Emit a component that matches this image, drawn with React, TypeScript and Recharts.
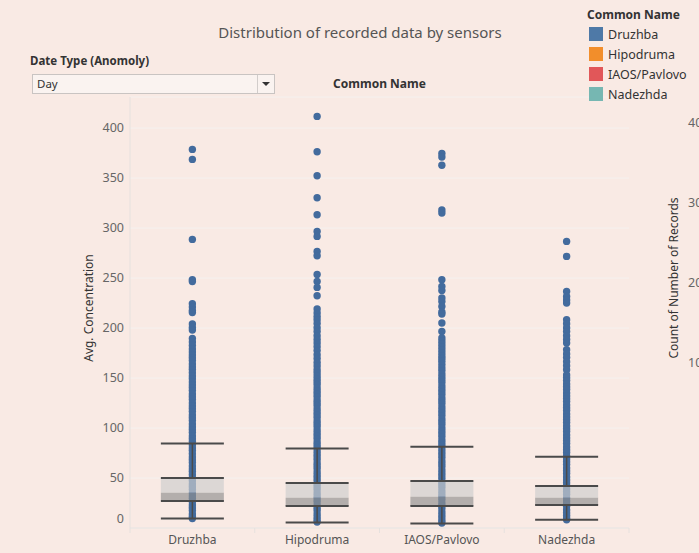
import {
  CartesianGrid,
  ReferenceArea,
  ReferenceLine,
  Scatter,
  ScatterChart,
  XAxis,
  YAxis,
} from "recharts"

const SENSORS = ["Druzhba", "Hipodruma", "IAOS/Pavlovo", "Nadezhda"]
const LEGEND_COLORS = ["#4e79a7", "#f28e2b", "#e15759", "#76b7b2"]
const Y_TICKS = [0, 50, 100, 150, 200, 250, 300, 350, 400]
const RIGHT_TICKS = ["40", "30", "20", "10"]

const DRUZHBA = [
  378.6, 368.6, 288.6, 248.3, 246.5, 224.3, 220.9, 217.6, 215.5, 204, 200.5, 198, 189.5, 186, 182.5,
  179, 176, 173, 170.2, 167.5, 164.1, 161, 158.4, 155.2, 152, 149.3, 146.1, 143, 140.2, 137.4, 134,
  131.2, 128.5, 125.1, 122, 119.3, 116.4, 113, 110.2, 107.5, 104.1, 101, 98.3, 95.4, 92, 89.2, 86.5,
  83.1, 80, 77.4, 74.2, 71, 68.3, 65.5, 62.1, 59, 56.4, 53.2, 50.1, 47.3, 44, 41.2, 38.5, 35.1, 32,
  29.4, 26.2, 23, 20.3, 17.5, 14.1, 11.6, 9.5,
]
const HIPODRUMA = [
  411.6, 376.3, 352.3, 330.3, 313.3, 296.6, 291.6, 276.6, 272.3, 253.6, 246.6, 240.6, 232.3, 219,
  215, 211.4, 208.3, 204.6, 200.2, 196.5, 192.3, 188.6, 185, 181.2, 177.4, 173.3, 169.5, 165.6,
  162, 158.2, 155.3, 152.1, 149, 146.2, 143.5, 140.1, 137, 134.3, 131.4, 128, 125.2, 122.5, 119.1,
  116, 113.3, 110.4, 107, 104.2, 101.5, 98.1, 95, 92.3, 89.4, 86, 83.2, 80.5, 77.1, 74, 71.3, 68.4,
  65, 62.2, 59.5, 56.1, 53, 50.3, 47.4, 44, 41.2, 38.5, 35.1, 32, 29.3, 26.4, 23, 20.2, 17.5, 14.1,
  11, 8.3, 6,
]
const IAOS_PAVLOVO = [
  374.5, 371, 362.7, 318, 315, 248.3, 241.6, 237.6, 230, 226.6, 221.6, 216, 214, 205, 196.6, 190,
  187, 184, 181, 178, 175, 172, 169.6, 166.8, 163.5, 160.2, 157.4, 154.1, 151, 148.3, 145.5, 142.1,
  139, 136.2, 133.4, 130, 127.3, 124.5, 121.1, 118, 115.2, 112.4, 109, 106.3, 103.5, 100.1, 97,
  94.2, 91.4, 88, 85.3, 82.5, 79.1, 76, 73.2, 70.4, 67, 64.3, 61.5, 58.1, 55, 52.2, 49.4, 46, 43.3,
  40.5, 37.1, 34, 31.2, 28.4, 25, 22.3, 19.5, 16.1, 13, 10.2, 7.4, 5,
]
const NADEZHDA = [
  286.6, 271.6, 236.6, 231.6, 228, 225, 208.3, 204.2, 200.1, 196.4, 192.2, 188.5, 185, 178.3,
  174.1, 170.4, 166.2, 162.3, 158.3, 153, 150.2, 147.4, 144, 141.3, 138.5, 135.1, 132, 129.2,
  126.4, 123, 120.3, 117.5, 114.1, 111, 108.2, 105.4, 102, 99.3, 96.5, 93.1, 90, 87.2, 84.4, 81,
  78.3, 75.5, 72.1, 69, 66.2, 63.4, 60, 57.3, 54.5, 51.1, 48, 45.2, 42.4, 39, 36.3, 33.5, 30.1, 27,
  24.2, 21.4, 18, 15.3, 12.5, 10.1, 8.2,
]
const SERIES = [DRUZHBA, HIPODRUMA, IAOS_PAVLOVO, NADEZHDA]

// box plot summary per sensor
const WHISKER_LOW = [9.6, 5.6, 4.6, 8.3]
const Q1 = [27, 22, 22, 23]
const MEDIAN = [35.3, 30.3, 31.3, 30.3]
const Q3 = [50, 45, 47, 42]
const WHISKER_HIGH = [84.6, 79.6, 81.3, 71.3]

const BOX_HALF = 0.2525
const DOT_COLOR = "#436b9d"
const LINE_COLOR = "#4a4a4a"
const BG = "#f9eae4"
const FONT = "'Noto Sans', sans-serif"

const dots = SERIES.flatMap((vals, i) => vals.map((v) => ({ x: i + 0.5, y: v })))

function Dot(props: any) {
  return <circle cx={props.cx} cy={props.cy} r={3.7} fill={DOT_COLOR} />
}

function XTick({ x, y, payload }: any) {
  const v = payload.value as number
  if (Number.isInteger(v)) {
    return <line x1={x} x2={x} y1={y} y2={y + 5} stroke="#e6e1de" />
  }
  return (
    <text x={x} y={y + 16} textAnchor="middle" fontSize={12} fill="#555" fontFamily={FONT}>
      {SENSORS[Math.floor(v)]}
    </text>
  )
}

function YTick({ x, y, payload }: any) {
  const v = payload.value as number
  return (
    <text x={x} y={y + 4 - (v === 0 ? 9 : 0)} textAnchor="end" fontSize={12.5} fill="#666" fontFamily={FONT}>
      {v}
    </text>
  )
}

function BoxPlots() {
  return SENSORS.map((_, i) => {
    const c = i + 0.5
    const l = c - BOX_HALF
    const r = c + BOX_HALF
    return [
      <ReferenceArea key={`a${i}`} x1={l} x2={r} y1={MEDIAN[i]} y2={Q3[i]} fill="#cecece" fillOpacity={0.67} stroke="none" zIndex={700} />,
      <ReferenceArea key={`b${i}`} x1={l} x2={r} y1={Q1[i]} y2={MEDIAN[i]} fill="#919191" fillOpacity={0.67} stroke="none" zIndex={700} />,
      <ReferenceLine key={`c${i}`} segment={[{ x: c, y: Q3[i] }, { x: c, y: WHISKER_HIGH[i] }]} stroke={LINE_COLOR} strokeWidth={1.5} zIndex={710} />,
      <ReferenceLine key={`d${i}`} segment={[{ x: c, y: WHISKER_LOW[i] }, { x: c, y: Q1[i] }]} stroke={LINE_COLOR} strokeWidth={1.5} zIndex={710} />,
      ...[WHISKER_LOW[i], Q1[i], Q3[i], WHISKER_HIGH[i]].map((v, k) => (
        <ReferenceLine key={`e${i}-${k}`} segment={[{ x: l, y: v }, { x: r, y: v }]} stroke={LINE_COLOR} strokeWidth={2} zIndex={720} />
      )),
    ]
  })
}

export default function App() {
  return (
    <div style={{ position: "absolute", left: 0, top: 0, width: 699, height: 553, background: BG, overflow: "hidden", fontFamily: FONT, color: "#333" }}>
      <div style={{ position: "absolute", left: 0, top: 0 }}>
        <ScatterChart width={699} height={553} margin={{ top: 97, right: 70, bottom: 0, left: 0 }}>
          <CartesianGrid horizontal vertical={false} stroke="#f5f1ef" />
          <XAxis
            type="number"
            dataKey="x"
            domain={[0, 4]}
            ticks={[0, 0.5, 1, 1.5, 2, 2.5, 3, 3.5, 4]}
            interval={0}
            height={25}
            tickSize={0}
            tickMargin={0}
            tickLine={false}
            axisLine={{ stroke: "#e6e1de" }}
            tick={<XTick />}
          />
          <YAxis
            type="number"
            dataKey="y"
            domain={[0, 431]}
            ticks={Y_TICKS}
            allowDataOverflow
            width={130}
            tickSize={6}
            tickMargin={0}
            tickLine={false}
            axisLine={{ stroke: "#e6e1de" }}
            tick={<YTick />}
          />
          <Scatter data={dots} dataKey="y" shape={<Dot />} isAnimationActive={false} zIndex={600} />
          {BoxPlots()}
        </ScatterChart>
      </div>

      <div style={{ position: "absolute", left: 0, width: 720, top: 22, textAlign: "center", fontSize: 15, color: "#555" }}>
        Distribution of recorded data by sensors
      </div>

      <div style={{ position: "absolute", left: 30, top: 53, fontSize: 11.5, fontWeight: 700 }}>Date Type (Anomoly)</div>
      <div style={{ position: "absolute", left: 32, top: 74, width: 241, height: 18, background: "#faf3f0", border: "1px solid #c9c4c2" }}>
        <span style={{ position: "absolute", left: 4, top: 1, fontSize: 11.5 }}>Day</span>
        <div style={{ position: "absolute", left: 224, top: 0, width: 1, height: 18, background: "#d2cdcb" }} />
        <div style={{ position: "absolute", left: 229, top: 7, width: 0, height: 0, borderLeft: "4px solid transparent", borderRight: "4px solid transparent", borderTop: "4px solid #333" }} />
      </div>

      <div style={{ position: "absolute", left: 130, width: 499, top: 75, textAlign: "center", fontSize: 12, fontWeight: 700 }}>Common Name</div>

      <div style={{ position: "absolute", left: 587, top: 6, fontSize: 12, fontWeight: 700 }}>Common Name</div>
      {SENSORS.map((s, i) => (
        <div key={s} style={{ position: "absolute", left: 589, top: 27 + i * 20, height: 14, display: "flex", alignItems: "center" }}>
          <div style={{ width: 14, height: 14, background: LEGEND_COLORS[i] }} />
          <span style={{ marginLeft: 5, fontSize: 12.5, whiteSpace: "nowrap" }}>{s}</span>
        </div>
      ))}

      <div style={{ position: "absolute", left: 88, top: 308, transform: "translate(-50%, -50%) rotate(-90deg)", fontSize: 12, whiteSpace: "nowrap" }}>
        Avg. Concentration
      </div>

      <div style={{ position: "absolute", left: 673, top: 278, transform: "translate(-50%, -50%) rotate(-90deg)", fontSize: 12, whiteSpace: "nowrap" }}>
        Count of Number of Records
      </div>
      {RIGHT_TICKS.map((t, i) => (
        <div key={t} style={{ position: "absolute", left: 688, top: 114 + i * 80, fontSize: 12.5, color: "#666" }}>{t}</div>
      ))}
    </div>
  )
}
